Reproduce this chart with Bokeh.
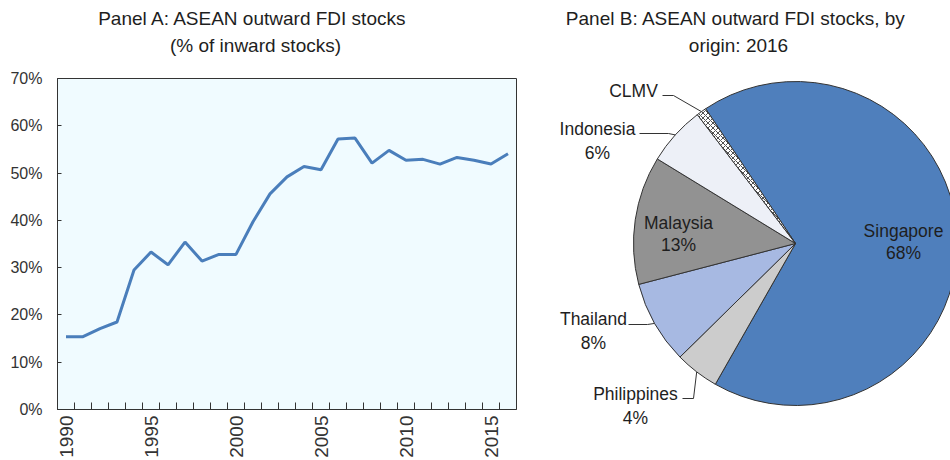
import math
from bokeh.plotting import figure
from bokeh.models import Range1d, FixedTicker, PrintfTickFormatter, ColumnDataSource
from bokeh.layouts import row, column
from bokeh.embed import file_html
from bokeh.resources import INLINE
from bokeh.core.properties import value

# ---------------- data ----------------
years = list(range(1990, 2017))
outward_pct = [15.4, 15.4, 17.1, 18.5, 29.5, 33.3, 30.6, 35.4, 31.4, 32.8, 32.8,
               39.7, 45.6, 49.2, 51.4, 50.7, 57.2, 57.4, 52.1, 54.8, 52.7, 52.9,
               51.9, 53.3, 52.7, 51.9, 54.1]
y_ticks = [0, 10, 20, 30, 40, 50, 60, 70]
year_labels = [1990, 1995, 2000, 2005, 2010, 2015]

countries = ["Singapore", "Philippines", "Thailand", "Malaysia", "Indonesia", "CLMV"]
shares = [67.6, 4.4, 8.3, 12.8, 5.9, 1.0]
slice_colors = ["#4F7FBC", "#CCCCCC", "#A7B9E2", "#929292", "#EDF0F7", "#FFFFFF"]
slice_hatch = [" ", " ", " ", " ", " ", "x"]

title_a = ["Panel A: ASEAN  outward FDI stocks", "(% of inward stocks)"]
title_b = ["Panel B: ASEAN  outward FDI stocks, by", "origin: 2016"]

FONT = "Liberation Sans"
TXT = "#1E1E1E"

# ---------------- Panel A title strip ----------------
TH = 66
pt = figure(width=535, height=TH, x_range=Range1d(57, 516), y_range=Range1d(TH, 0),
            output_backend="svg", toolbar_location=None, title=None,
            x_axis_type=None, y_axis_type=None,
            min_border_left=57, min_border_right=19, min_border_top=0, min_border_bottom=0,
            outline_line_color=None, background_fill_color="white")
pt.xgrid.visible = False
pt.ygrid.visible = False
pt.text(x=[255, 255], y=[18, 45], text=title_a, text_align="center", text_baseline="middle",
        text_font=value(FONT), text_font_size="19px", text_color=TXT)

# ---------------- Panel A ----------------
p1 = figure(width=535, height=460 - TH, x_range=Range1d(1989.5, 2016.5), y_range=Range1d(0, 70),
            output_backend="svg", toolbar_location=None, title=None,
            min_border_left=57, min_border_right=19, min_border_top=78 - TH, min_border_bottom=49,
            background_fill_color="#F0FBFF", border_fill_color="white",
            outline_line_color="#333333", outline_line_width=1)
p1.xgrid.visible = False
p1.ygrid.visible = False
p1.line(years, outward_pct, line_color="#4A7EBB", line_width=3)

xa = p1.xaxis[0]
xa.ticker = FixedTicker(ticks=year_labels, minor_ticks=[y + 0.5 for y in years[:-1]])
xa.axis_line_color = "#333333"
xa.major_tick_line_color = None
xa.major_tick_in = 0
xa.major_tick_out = 0
xa.minor_tick_in = 7
xa.minor_tick_out = 0
xa.minor_tick_line_color = "#333333"
xa.major_label_orientation = math.pi / 2
xa.major_label_standoff = 6
xa.major_label_text_font = FONT
xa.major_label_text_font_size = "19px"
xa.major_label_text_color = "#333333"

ya = p1.yaxis[0]
ya.ticker = FixedTicker(ticks=y_ticks)
ya.formatter = PrintfTickFormatter(format="%d%%")
ya.axis_line_color = "#333333"
ya.major_tick_in = 4
ya.major_tick_out = 0
ya.minor_tick_line_color = None
ya.major_tick_line_color = "#333333"
ya.major_label_standoff = 15
ya.major_label_text_font = FONT
ya.major_label_text_font_size = "16px"
ya.major_label_text_color = "#333333"

# ---------------- Panel B ----------------
p2 = figure(width=415, height=460, x_range=Range1d(-260, 155), y_range=Range1d(-217, 243),
            output_backend="svg", toolbar_location=None, title=None,
            x_axis_type=None, y_axis_type=None, min_border=0,
            outline_line_color=None, background_fill_color="white")
p2.xgrid.visible = False
p2.ygrid.visible = False

R = 162
theta0 = -33.7
starts, ends, mids = [], [], []
cum = theta0
for s in shares:
    a0 = cum
    a1 = cum + s * 3.6
    starts.append(math.radians(90 - a1))
    ends.append(math.radians(90 - a0))
    mids.append((a0 + a1) / 2)
    cum = a1

src = ColumnDataSource(dict(start=starts, end=ends, color=slice_colors, hatch=slice_hatch))
p2.wedge(x=0, y=0, radius=R, start_angle="start", end_angle="end", direction="anticlock",
         fill_color="color", line_color="#333333", line_width=1,
         hatch_pattern="hatch", hatch_color="#222222", hatch_scale=5, hatch_weight=0.8,
         source=src)

def edge(i):
    t = math.radians(mids[i])
    return R * math.sin(t), R * math.cos(t)

# label layout: name x-center, name y, pct y, leader start, leader elbow
layout = {
    "Singapore":   dict(cx=108, ny=13, py=-9),
    "Malaysia":    dict(cx=-117, ny=21, py=-1),
    "Indonesia":   dict(cx=-198, ny=115, py=91, ls=(-156, 110), le=(-127, 110)),
    "Thailand":    dict(cx=-202, ny=-75, py=-99, ls=(-167, -81), le=(-148, -81)),
    "Philippines": dict(cx=-160, ny=-150, py=-174, ls=(-113, -155), le=(-102, -155)),
    "CLMV":        dict(cx=-162, ny=153, py=None, ls=(-133, 148), le=(-122, 148)),
}

nx, ny, nt, qx, qy, qt = [], [], [], [], [], []
lxs, lys = [], []
for i, c in enumerate(countries):
    L = layout[c]
    nx.append(L["cx"]); ny.append(L["ny"]); nt.append(c)
    if L["py"] is not None:
        qx.append(L["cx"]); qy.append(L["py"]); qt.append(f"{round(shares[i])}%")
    if "ls" in L:
        ex, ey = edge(i)
        lxs.append([L["ls"][0], L["le"][0], ex])
        lys.append([L["ls"][1], L["le"][1], ey])

p2.multi_line(xs=lxs, ys=lys, line_color="#333333", line_width=1)
p2.text(x=nx, y=ny, text=nt, text_align="center", text_baseline="middle",
        text_font=value(FONT), text_font_size="17.5px", text_color=TXT)
p2.text(x=qx, y=qy, text=qt, text_align="center", text_baseline="middle",
        text_font=value(FONT), text_font_size="17.5px", text_color=TXT)
p2.text(x=[-57, -57], y=[225, 198], text=title_b, text_align="center", text_baseline="middle",
        text_font=value(FONT), text_font_size="19px", text_color=TXT)

layout_row = row(column(pt, p1), column(p2))
open("out.html", "w").write(file_html(layout_row, INLINE))
